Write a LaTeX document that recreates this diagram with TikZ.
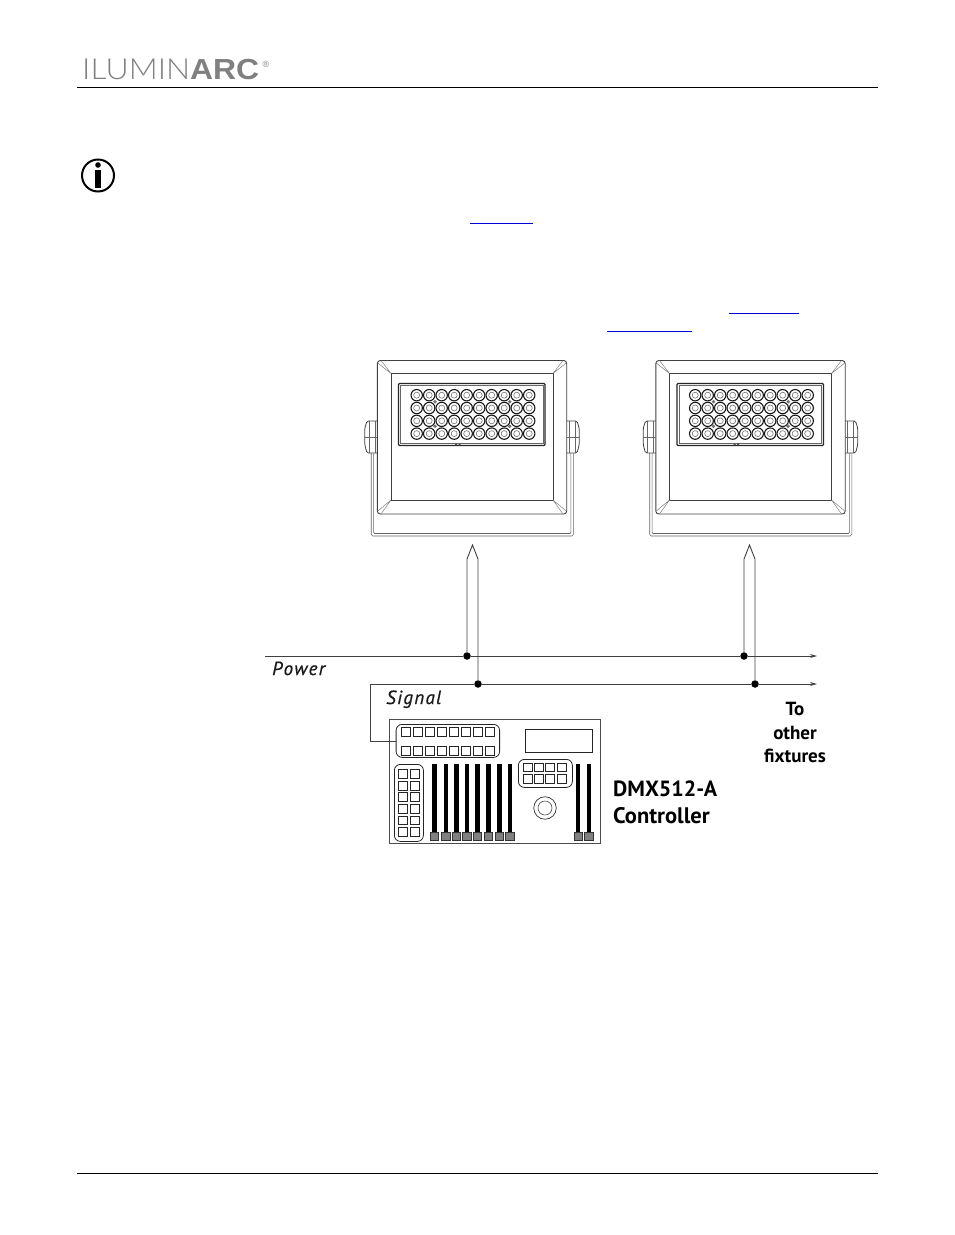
\documentclass[tikz,border=0pt]{standalone}
\usetikzlibrary{arrows.meta}
\usepackage{fontspec}
\setmainfont{PT Sans}
\newfontfamily\logolight{Lato Light}
\newfontfamily\logobold{Liberation Sans}[BoldFont={Liberation Sans Bold}]
\newfontfamily\wirefont{PT Sans Italic}[FakeBold=0.7, LetterSpace=7]

\begin{document}
\begin{tikzpicture}[x=1pt, y=-1pt, >={Stealth[length=7pt, width=4pt]},
   wire/.style={line width=0.9pt, black!75},
   junction/.style={circle, fill=black, inner sep=0pt, minimum size=7.5pt},
   panel/.style={draw, black!70, line width=0.8pt, inner sep=0pt},
   group/.style={panel, rounded corners=6pt, black!85},
   fixture/.pic={
      % body
      \draw[black!75, line width=0.9pt, rounded corners=3pt] (377.3,360.5) rectangle (566.7,514);
      \draw[black!75, line width=0.9pt] (391,373.5) rectangle (553,500);
      \draw[black!50, line width=0.5pt] (377.8,363) -- (391,373.5) (566.2,363) -- (553,373.5)
         (377.8,511) -- (391,500) (566.2,511) -- (553,500)
         (381,360.5) -- (391,373.5) (563,360.5) -- (553,373.5)
         (381,514) -- (391,500) (563,514) -- (553,500);
      % led panel
      \draw[black!85, line width=1.3pt, rounded corners=1pt] (398.5,383.5) rectangle (545,445.5);
      \draw[black!60, line width=0.5pt] (400.5,385.5) rectangle (543,443.5);
      \foreach \row in {0,1,2,3}
         \foreach \col in {0,...,9} {
            \draw[black!90, line width=1.1pt] (416.7+12.5*\col, 395.2+12.8*\row) circle (5.7);
            \draw[black!55, line width=0.6pt] (416.7+12.5*\col, 395.2+12.8*\row) circle (3);
         }
      \foreach \px in {435,509.7}
         \foreach \py in {401.7,426.3}
            \fill[black!55] (\px,\py) circle (1.9);
      \fill[black!70] (455,443.7) rectangle (457,445) (458.5,443.7) rectangle (460.5,445);
      % bracket
      \draw[black!75, line width=0.8pt, rounded corners=1.5pt] (377.3,421) -- (367,421) -- (364.8,428) -- (364.8,445) -- (367,453) -- (377.3,453);
      \draw[black!75, line width=0.8pt, rounded corners=1.5pt] (566.7,421) -- (577,421) -- (579.2,428) -- (579.2,445) -- (577,453) -- (566.7,453);
      \draw[black!60, line width=0.5pt] (369,421) -- (369,453) (375,421) -- (375,453) (364.8,437) -- (377.3,437)
         (575,421) -- (575,453) (569,421) -- (569,453) (579.2,437) -- (566.7,437);
      \draw[black!60, line width=0.6pt, rounded corners=1.5pt] (371.2,453) -- (371.2,536) -- (573.3,536) -- (573.3,453);
      \draw[black!60, line width=0.6pt, rounded corners=1pt] (373.6,453) -- (373.6,533.5) -- (570.9,533.5) -- (570.9,453);
   },
]
\useasboundingbox (0,0) rectangle (954,1235);

% header and footer
\node[anchor=base west, inner sep=0pt, black!50, font=\fontsize{29}{30}\selectfont] (logo) at (82,79.3)
   {\scalebox{1.1}[1]{{\logolight ILUMIN}{\logobold\bfseries ARC}}};
\node[anchor=base west, inner sep=0pt, black!50, font=\logobold\fontsize{9}{10}\selectfont] (regmark) at (262.5,67) {\textregistered};
\coordinate (headl) at (77,87);
\coordinate (headr) at (878,87);
\coordinate (footl) at (77,1173);
\coordinate (footr) at (878,1173);
\draw[line width=0.9pt] (headl) -- (headr);
\draw[line width=0.9pt] (footl) -- (footr);

% info icon
\node[circle, draw, line width=2pt, minimum size=32pt, inner sep=0pt] (info) at (98,175.5) {};
\fill (98,165) circle (2.8);
\fill (95.3,169.5) rectangle (100.7,188);

% link underlines
\draw[blue!85!black, line width=1pt] (470,223.3) -- (533,223.3);
\draw[blue!85!black, line width=1pt] (729,313.3) -- (799,313.3);
\draw[blue!85!black, line width=1pt] (607,331.3) -- (692,331.3);

% fixtures
\pic at (0,0) {fixture};
\pic at (278.5,0) {fixture};

% wiring
\coordinate (pwrin) at (265,656);
\coordinate (pwrout) at (817,656);
\coordinate (sigout) at (817,684);
\node[junction] (pa) at (467,656) {};
\node[junction] (pb) at (744,656) {};
\node[junction] (sa) at (478,684) {};
\node[junction] (sb) at (755,684) {};
\coordinate (tipa) at (472.5,545);
\coordinate (tipb) at (749.5,545);
\draw[wire, ->] (pwrin) -- (pa) -- (pb) -- (pwrout);
\draw[wire, ->] (sa) -- (sb) -- (sigout);
\draw[wire] (pa) -- (467,559) -- (tipa) -- (478,559) -- (sa);
\draw[wire] (pb) -- (744,559) -- (tipb) -- (755,559) -- (sb);

\node[anchor=base west, inner sep=0pt, font=\fontsize{19}{20}\selectfont\wirefont, text=black!90] (power) at (272,675) {Power};
\node[anchor=base west, inner sep=0pt, font=\fontsize{19}{20}\selectfont\wirefont, text=black!90] (signal) at (386,704) {Signal};

% controller
\node[panel, minimum width=211.5pt, minimum height=124pt, anchor=north west] (ctrl) at (388.8,719) {};
\node[group, minimum width=103.5pt, minimum height=33pt, anchor=north west] (ports) at (395.7,724) {};
\node[group, minimum width=29pt, minimum height=77pt, anchor=north west] (keys) at (394,764) {};
\node[group, minimum width=54pt, minimum height=28pt, anchor=north west] (pads) at (518,759) {};
\node[panel, black!85, minimum width=67pt, minimum height=23pt, anchor=north west] (display) at (525,729) {};
\draw[wire] (sa) -- (370.5,684) -- (370.5,741.5) -- (ports.west |- 0,741.5);

\foreach \i in {0,...,7} {
   \draw[black!85, line width=0.7pt] (401+12*\i,727) rectangle ++(9.2,9);
   \draw[black!85, line width=0.7pt] (401+12*\i,746.5) rectangle ++(9.2,9);
}
\foreach \i in {0,...,5} {
   \draw[black!85, line width=0.7pt] (398.5,769.5+11.6*\i) rectangle ++(9.2,8.8);
   \draw[black!85, line width=0.7pt] (410.3,769.5+11.6*\i) rectangle ++(9.2,8.8);
}
\foreach \i in {0,...,3} {
   \draw[black!85, line width=0.7pt] (523.2+11.3*\i,763) rectangle ++(9,8.6);
   \draw[black!85, line width=0.7pt] (523.2+11.3*\i,774.5) rectangle ++(9,8.6);
}
% faders
\foreach \fx in {434.3,445.7,456.3,466.7,477.3,488.3,499.3,509.7,578,588.7} {
   \fill[black] (\fx-2.2,764) rectangle (\fx+2.2,832);
   \draw[black!80, fill=black!50, line width=0.5pt] (\fx-4.2,832.5) rectangle (\fx+4.2,840);
}
\node[circle, draw, black!80, line width=0.7pt, minimum size=22.5pt, inner sep=0pt] (knob) at (545,808) {};
\node[circle, draw, black!70, line width=0.6pt, minimum size=14pt, inner sep=0pt] (knobin) at (545,808) {};

% labels
\node[font=\fontsize{22}{25}\selectfont\bfseries, anchor=base west, inner sep=0pt] (dmx) at (613,796) {DMX512-A};
\node[font=\fontsize{22.5}{25}\selectfont\bfseries, anchor=base west, inner sep=0pt] (cname) at (613,823) {Controller};
\node[font=\fontsize{19}{20}\selectfont\bfseries, anchor=base, inner sep=0pt] (to) at (795,715) {To};
\node[font=\fontsize{19}{20}\selectfont\bfseries, anchor=base, inner sep=0pt] (other) at (795,739) {other};
\node[font=\fontsize{19}{20}\selectfont\bfseries, anchor=base, inner sep=0pt] (fixt) at (795,762) {fixtures};
\end{tikzpicture}
\end{document}
